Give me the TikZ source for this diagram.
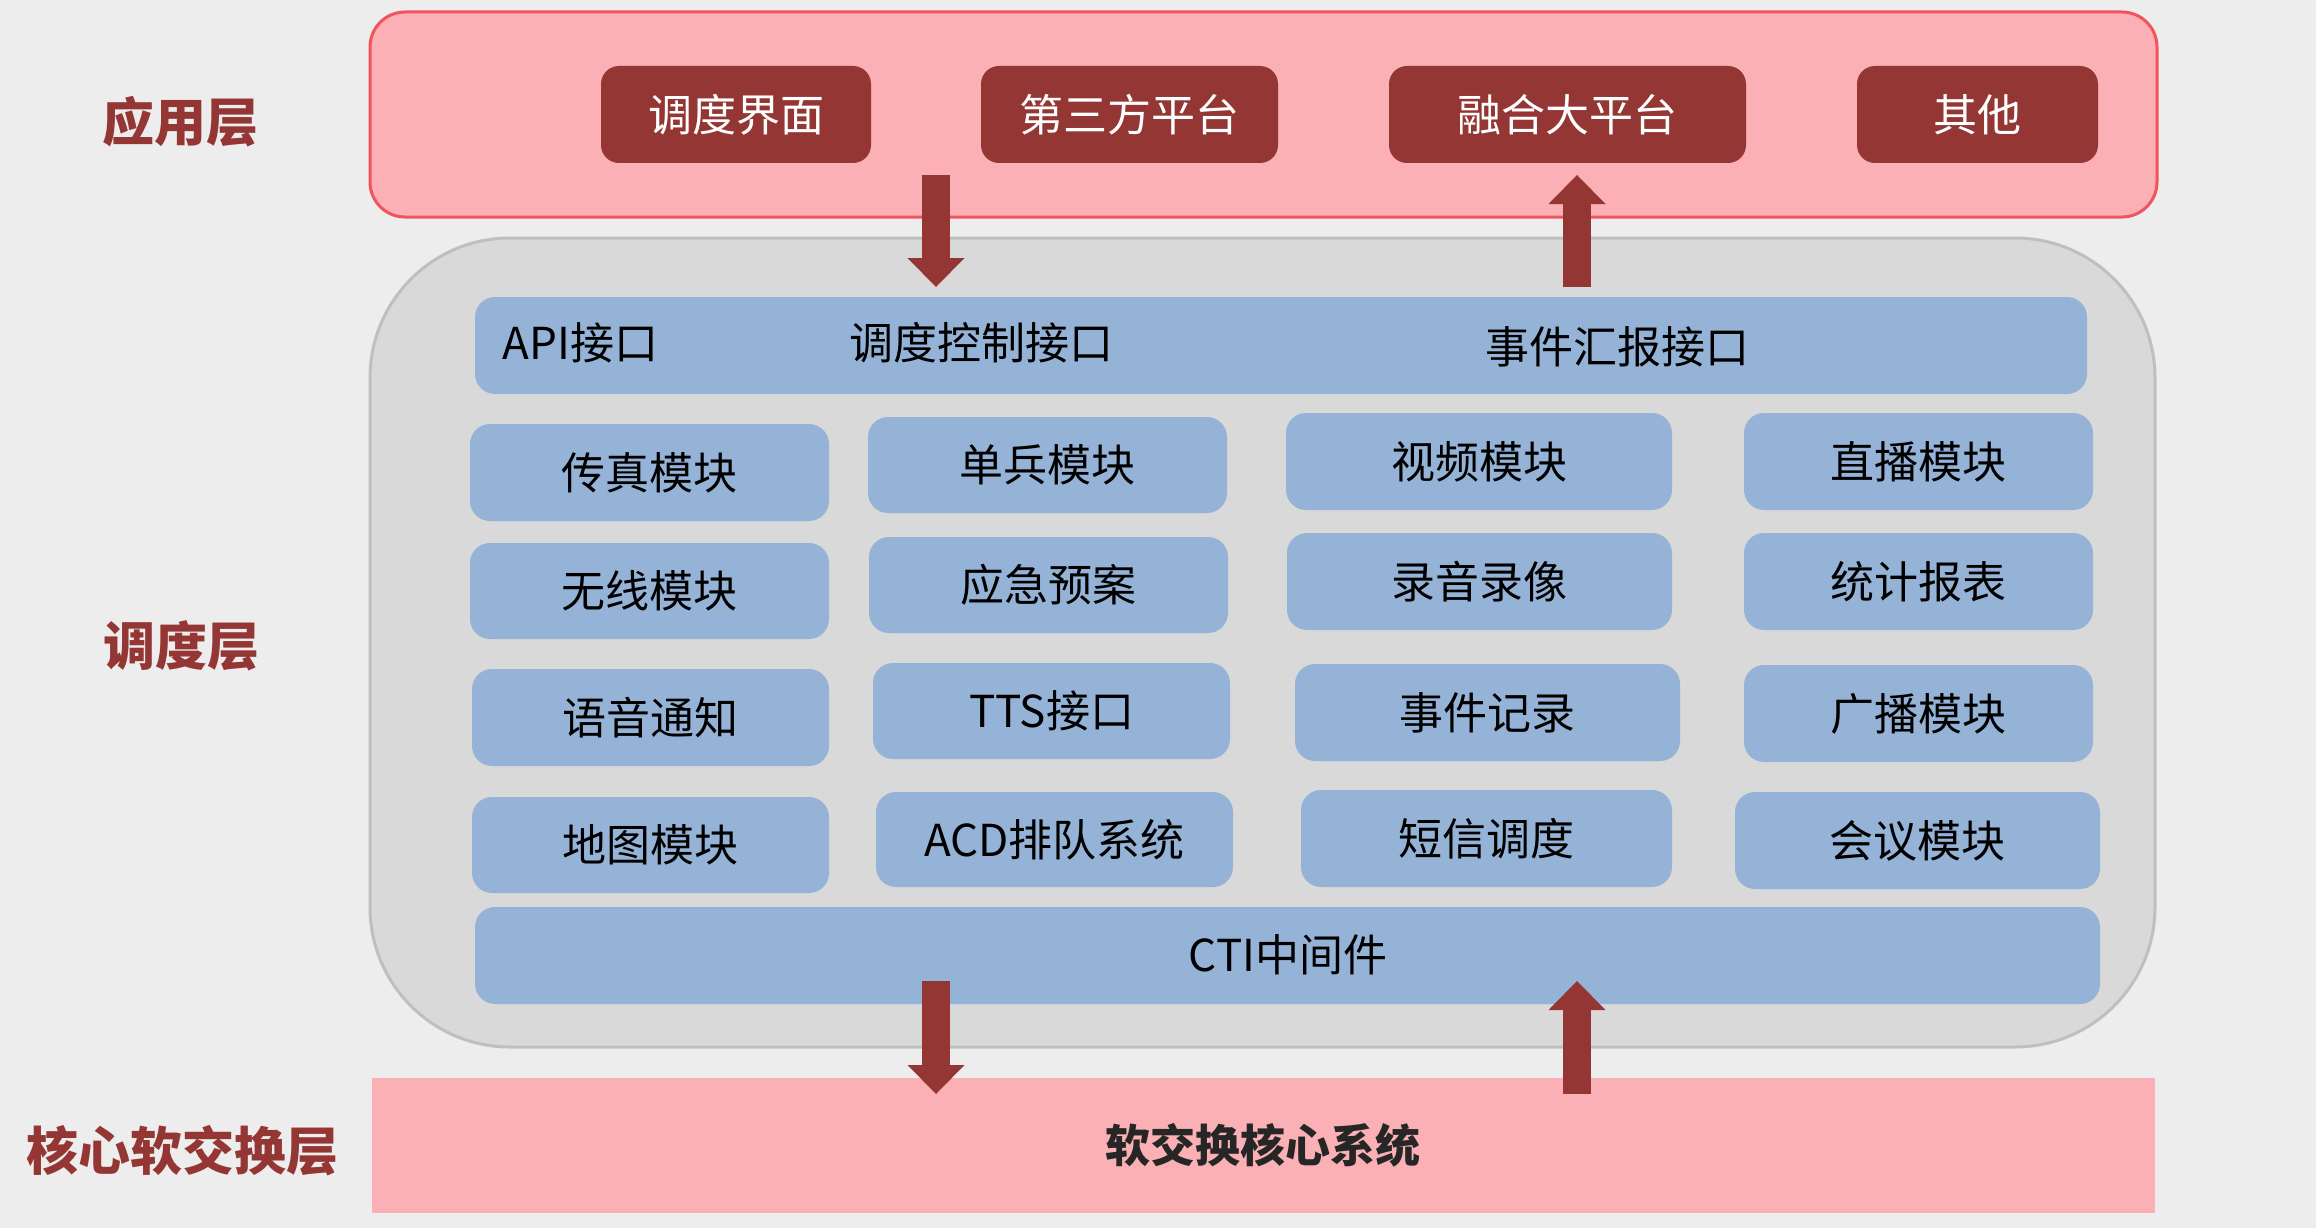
\documentclass[tikz,border=0pt]{standalone}
\usepackage{fontspec}
\setmainfont{Noto Sans CJK SC}
\usetikzlibrary{arrows.meta}
\definecolor{bgc}{HTML}{EDEDED}
\definecolor{apppink}{HTML}{FAB0B4}
\definecolor{appborder}{HTML}{F2545C}
\definecolor{darkred}{HTML}{943634}
\definecolor{grayfill}{HTML}{D9D9D9}
\definecolor{grayborder}{HTML}{BFBFBF}
\definecolor{bluefill}{HTML}{95B3D7}
\definecolor{coretext}{HTML}{262626}
\tikzset{
  basebox/.style={inner sep=0pt, outer sep=0pt, rectangle},
  applayer/.style={basebox, fill=apppink, draw=appborder, line width=3pt, rounded corners=35pt},
  displayer/.style={basebox, fill=grayfill, draw=grayborder, line width=3pt, rounded corners=140pt},
  corelayer/.style={basebox, fill=apppink},
  appbox/.style={basebox, fill=darkred, rounded corners=18pt, text=white, font=\fontsize{44}{50}\selectfont},
  modbox/.style={basebox, fill=bluefill, rounded corners=20pt, text=black, font=\fontsize{44}{50}\selectfont},
  bartext/.style={inner sep=0pt, text=black, font=\fontsize{44}{50}\selectfont},
  layerlabel/.style={inner sep=0pt, text=darkred, font=\fontsize{52}{58}\selectfont\bfseries},
  coretxt/.style={inner sep=0pt, text=coretext, font=\fontsize{45}{52}\selectfont\bfseries},
  bigarrow/.style={draw=darkred, line width=28pt, -{Triangle[width=57pt,length=29pt,line width=0pt]}},
}
\newcommand\mkbox[7]{%
  \pgfmathsetmacro\mkW{#5-#3}\pgfmathsetmacro\mkH{#6-#4}%
  \pgfmathsetmacro\mkX{(#3+#5)/2}\pgfmathsetmacro\mkY{(#4+#6)/2}%
  \node[#1, minimum width=\mkW pt, minimum height=\mkH pt] (#2) at (\mkX,\mkY) {#7};}
\begin{document}
\begin{tikzpicture}[x=1pt,y=-1pt]
\useasboundingbox (0,0) rectangle (2316,1228);
\fill[bgc] (0,0) rectangle (2316,1228);

% layers
\mkbox{applayer}{app}{370}{12}{2157}{217}{}
\mkbox{displayer}{disp}{370}{238}{2155}{1047}{}
\mkbox{corelayer}{core}{372}{1078}{2155}{1213}{}

% layer labels
\node[layerlabel] (lblapp) at (180,122) {应用层};
\node[layerlabel] (lbldisp) at (181,646) {调度层};
\node[layerlabel] (lblcore) at (183,1151) {核心软交换层};

% application boxes
\mkbox{appbox}{ui}{601}{66}{871}{163}{调度界面}
\mkbox{appbox}{third}{981}{66}{1278}{163}{第三方平台}
\mkbox{appbox}{fusion}{1389}{66}{1746}{163}{融合大平台}
\mkbox{appbox}{other}{1857}{66}{2098}{163}{其他}

% interface bar
\mkbox{modbox}{apibar}{475}{297}{2087}{394}{}
\node[bartext] (apitxt) at (580.5,343) {API接口};
\node[bartext] (ctrltxt) at (981,343) {调度控制接口};
\node[bartext] (evtxt) at (1617,347) {事件汇报接口};

% modules column 1
\mkbox{modbox}{fax}{470}{424}{829}{521}{传真模块}
\mkbox{modbox}{wireless}{470}{543}{829}{639}{无线模块}
\mkbox{modbox}{voice}{472}{669}{829}{766}{语音通知}
\mkbox{modbox}{map}{472}{797}{829}{893}{地图模块}
% column 2
\mkbox{modbox}{soldier}{868}{417}{1227}{513}{单兵模块}
\mkbox{modbox}{plan}{869}{537}{1228}{633}{应急预案}
\mkbox{modbox}{tts}{873}{663}{1230}{759}{TTS接口}
\mkbox{modbox}{acd}{876}{792}{1233}{887}{ACD排队系统}
% column 3
\mkbox{modbox}{video}{1286}{413}{1672}{510}{视频模块}
\mkbox{modbox}{record}{1287}{533}{1672}{630}{录音录像}
\mkbox{modbox}{evlog}{1295}{664}{1680}{761}{事件记录}
\mkbox{modbox}{sms}{1301}{790}{1672}{887}{短信调度}
% column 4
\mkbox{modbox}{live}{1744}{413}{2093}{510}{直播模块}
\mkbox{modbox}{stats}{1744}{533}{2093}{630}{统计报表}
\mkbox{modbox}{bcast}{1744}{665}{2093}{762}{广播模块}
\mkbox{modbox}{meet}{1735}{792}{2100}{889}{会议模块}

% CTI bar
\mkbox{modbox}{cti}{475}{907}{2100}{1004}{}
\node[bartext] (ctitxt) at (1288,955) {CTI中间件};

% core text
\node[coretxt] (coretitle) at (1263,1145) {软交换核心系统};

% arrows
\coordinate (d1s) at (936,175);
\coordinate (d1e) at (936,287);
\coordinate (u1s) at (1577,287);
\coordinate (u1e) at (1577,175);
\coordinate (d2s) at (936,981);
\coordinate (d2e) at (936,1094);
\coordinate (u2s) at (1577,1094);
\coordinate (u2e) at (1577,981);
\draw[bigarrow] (d1s) -- (d1e);
\draw[bigarrow] (u1s) -- (u1e);
\draw[bigarrow] (d2s) -- (d2e);
\draw[bigarrow] (u2s) -- (u2e);
\end{tikzpicture}
\end{document}
